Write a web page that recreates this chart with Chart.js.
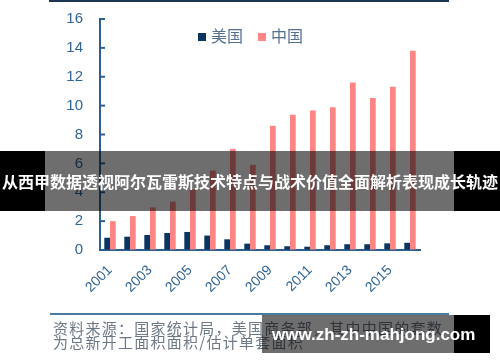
<!DOCTYPE html>
<html>
<head>
<meta charset="utf-8">
<script src="https://cdn.jsdelivr.net/npm/chart.js@4.4.0/dist/chart.umd.min.js"></script>
<style>
body { margin:0; width:500px; height:362px; overflow:hidden; background:#fff; position:relative; font-family:"Noto Sans CJK SC", sans-serif; }
#wrap { position:absolute; left:0; top:0; width:500px; height:362px; }
.topline { position:absolute; left:49px; top:0; width:400px; height:2px; background:#1c3550; }
.botline { position:absolute; left:50px; top:313px; width:399px; height:1.5px; background:#4a7aa0; }
.legend { position:absolute; top:26px; left:0; font-size:16px; color:#56708f; line-height:18px; white-space:nowrap; }
.legend span.box { display:inline-block; width:8px; height:8px; margin-right:5px; vertical-align:1px; }
.source { position:absolute; left:53px; top:321px; font-size:15px; letter-spacing:1.25px; line-height:13.5px; color:#6c7886; white-space:nowrap; }
.banner { position:absolute; left:0; top:151px; width:500px; height:60px; line-height:60px; text-align:center; color:#fff; font-weight:bold; font-size:16px; white-space:nowrap;
  background:linear-gradient(to right, #000 0, #000 45px, rgba(0,0,0,0.57) 45px, rgba(0,0,0,0.57) 454px, #000 454px, #000 500px); }
.wm { position:absolute; left:262px; top:315px; width:228px; height:38px; line-height:40px; color:#fff; font-weight:bold; font-size:17px; font-family:"Liberation Sans", Arial, sans-serif; padding-left:10px; box-sizing:border-box; white-space:nowrap;
  background:linear-gradient(to right, rgba(0,0,0,0.57) 0, rgba(0,0,0,0.57) 192px, #000 192px, #000 228px); }
</style>
</head>
<body>
<div id="wrap"><canvas id="grafica" width="500" height="362"></canvas></div>
<div class="topline"></div>
<div class="botline"></div>
<div class="legend" style="left:198px"><span class="box" style="background:#0a3561"></span>美国</div>
<div class="legend" style="left:258px"><span class="box" style="background:#ff8585"></span>中国</div>
<div class="source">资料来源：国家统计局，美国商务部，其中中国的套数<br>为总新开工面积面积/估计单套面积</div>
<div class="banner">从西甲数据透视阿尔瓦雷斯技术特点与战术价值全面解析表现成长轨迹</div>
<div class="wm">www.zh-zh-mahjong.com</div>
<script>
// datos
const anios = ['2001','2002','2003','2004','2005','2006','2007','2008','2009','2010','2011','2012','2013','2014','2015','2016'];
const usa = [0.85, 0.92, 1.04, 1.18, 1.25, 1.0, 0.74, 0.44, 0.33, 0.26, 0.23, 0.33, 0.4, 0.4, 0.46, 0.5];
const china = [2.0, 2.35, 2.95, 3.35, 4.2, 5.5, 7.0, 5.9, 8.6, 9.37, 9.67, 9.88, 11.6, 10.53, 11.3, 13.8];
const ticksY = [0, 2, 4, 6, 8, 10, 12, 14, 16];

const azulEje = '#2c5f8f';
const azulTexto = '#2f6496';

// marcas cortas hacia adentro en el eje Y
const marcasY = {
    id: 'marcasY',
    afterDraw(chart) {
        const c = chart.ctx;
        const y = chart.scales.y;
        c.save();
        c.strokeStyle = azulEje;
        c.lineWidth = 2;
        ticksY.forEach(v => {
            const py = y.getPixelForValue(v);
            c.beginPath();
            c.moveTo(y.right, py);
            c.lineTo(y.right + 5, py);
            c.stroke();
        });
        c.restore();
    }
};

new Chart(document.getElementById('grafica'), {
    type: 'bar',
    data: {
        labels: anios,
        datasets: [
            { label: '美国', data: usa, backgroundColor: '#0a3561', categoryPercentage: 0.57, barPercentage: 1.0 },
            { label: '中国', data: china, backgroundColor: '#ff8585', categoryPercentage: 0.57, barPercentage: 1.0 }
        ]
    },
    options: {
        responsive: false,
        animation: false,
        layout: { padding: { left: 0, right: 80, top: 19, bottom: 0 } },
        plugins: { legend: { display: false }, tooltip: { enabled: false } },
        scales: {
            x: {
                afterFit: s => { s.height = 112; },
                grid: { display: false },
                border: { display: true, color: azulEje, width: 2 },
                ticks: {
                    autoSkip: false,
                    minRotation: 45,
                    maxRotation: 45,
                    padding: 4,
                    color: azulTexto,
                    font: { family: 'Liberation Sans', size: 14 },
                    callback: (v, i) => (i % 2 === 0 ? anios[i] : '')
                }
            },
            y: {
                min: 0,
                max: 16,
                afterFit: s => { s.width = 100; },
                grid: { display: true, drawOnChartArea: false, drawTicks: true, tickLength: 17, tickColor: 'rgba(0,0,0,0)' },
                border: { display: true, color: azulEje, width: 2 },
                ticks: {
                    stepSize: 2,
                    padding: 0,
                    color: azulTexto,
                    font: { family: 'Liberation Sans', size: 15 }
                }
            }
        }
    },
    plugins: [marcasY]
});
</script>
</body>
</html>
